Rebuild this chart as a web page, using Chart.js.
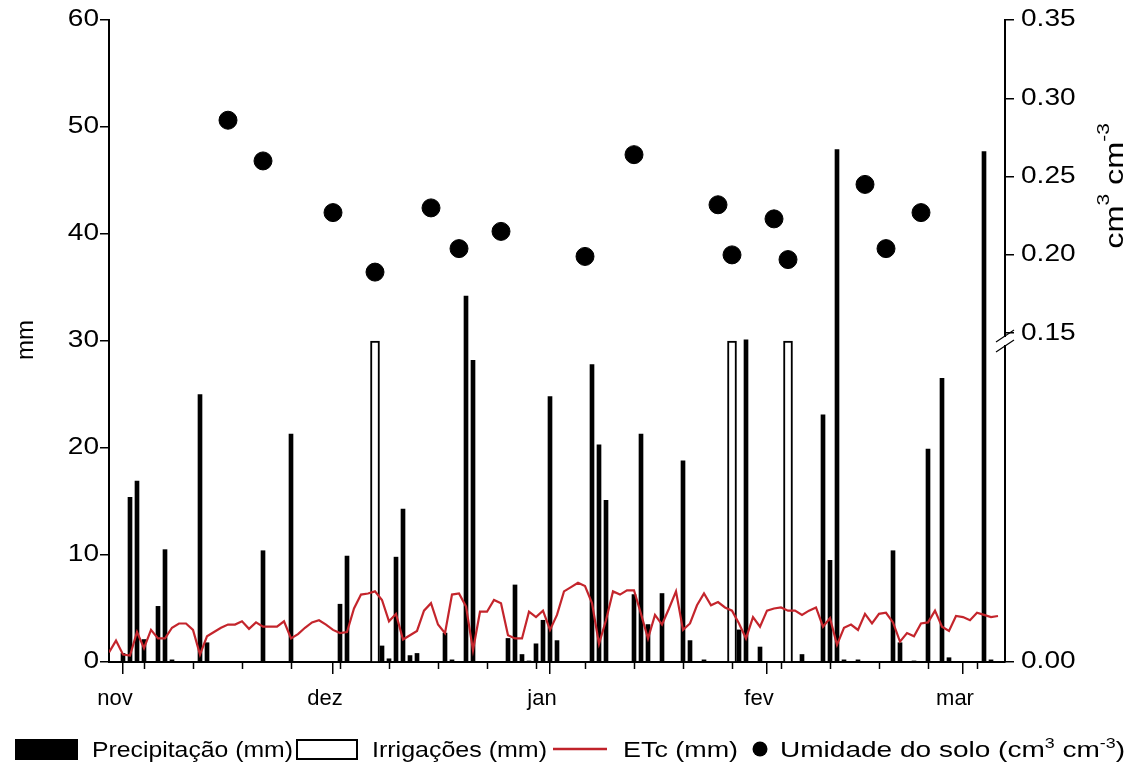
<!DOCTYPE html>
<html>
<head>
<meta charset="utf-8">
<script src="https://cdn.jsdelivr.net/npm/chart.js@4"></script>
<style>
  html, body { margin: 0; padding: 0; background: #fff; }
</style>
</head>
<body>
<canvas id="chart" width="1128" height="766"></canvas>
<script>
// days are counted from 1 November (day 0)
const monthTickDays = [0, 30, 61, 92, 120];
const monthLabels = ["nov", "dez", "jan", "fev", "mar"];
const weekTickDays = [3, 10, 17, 24, 31, 38, 45, 52, 59, 66, 73, 80, 87, 94, 101, 108, 115, 122];

const mmTicks = [0, 10, 20, 30, 40, 50, 60];
const soilTicks = [0.15, 0.20, 0.25, 0.30, 0.35];
const soilBreakLabel = "0.00";

// precipitation (mm)
const precipDays = [0, 1, 2, 3, 5, 6, 7, 11, 12, 20, 24, 31, 32, 37, 38, 39, 40, 41, 42, 46, 47, 49, 50,
  55, 56, 57, 58, 59, 60, 61, 62, 67, 68, 69, 73, 74, 75, 77, 80, 81, 83, 88, 89, 91, 97,
  100, 101, 102, 103, 105, 110, 111, 113, 115, 117, 118, 123, 124];
const precipMm = [0.8, 15.4, 16.9, 2.1, 5.2, 10.5, 0.2, 25.0, 1.8, 10.4, 21.3, 5.4, 9.9, 1.5, 0.3, 9.8, 14.3, 0.6, 0.8, 2.7, 0.2, 34.2, 28.2,
  2.2, 7.2, 0.7, 0.1, 1.7, 3.9, 24.8, 2.0, 27.8, 20.3, 15.1, 6.3, 21.3, 3.5, 6.4, 18.8, 2.0, 0.2, 3.0, 30.1, 1.4, 0.7,
  23.1, 9.5, 47.9, 0.2, 0.2, 10.4, 1.8, 0.1, 19.9, 26.5, 0.4, 47.7, 0.2];

// irrigations (mm)
const irrigDays = [36, 87, 95];
const irrigMm = [30, 30, 30];

// ETc (mm), one value per day starting at day -2
const etcFirstDay = -2;
const etcMm = [0.9, 2.0, 0.7, 0.6, 2.8, 1.3, 3.0, 2.2, 2.2, 3.2, 3.6, 3.6, 3.0, 0.7, 2.4, 2.8, 3.2, 3.5, 3.5, 3.8,
  3.1, 3.7, 3.3, 3.3, 3.3, 3.8, 2.2, 2.6, 3.2, 3.7, 3.9, 3.5, 3.0, 2.7, 2.8, 5.0, 6.3, 6.4, 6.6, 5.8,
  3.8, 4.5, 2.1, 2.5, 2.9, 4.8, 5.5, 3.5, 2.7, 6.3, 6.4, 5.2, 1.1, 4.7, 4.7, 5.8, 5.5, 2.5, 2.2, 2.2,
  4.7, 4.2, 4.8, 3.0, 4.4, 6.6, 7.0, 7.4, 7.1, 5.5, 1.7, 3.9, 6.6, 6.3, 6.7, 6.7, 4.5, 2.2, 4.4, 3.5,
  5.0, 6.6, 3.0, 3.6, 5.3, 6.4, 5.3, 5.6, 5.1, 4.8, 3.6, 2.2, 4.2, 3.3, 4.8, 5.0, 5.1, 4.8, 4.8, 4.4,
  4.8, 5.1, 3.3, 4.1, 1.6, 3.2, 3.5, 3.0, 4.5, 3.6, 4.5, 4.6, 3.7, 1.9, 2.7, 2.4, 3.6, 3.7, 4.8, 3.3,
  2.9, 4.3, 4.2, 3.9, 4.6, 4.4, 4.2, 4.3];

// soil moisture (cm3 cm-3)
const soilDays = [15, 20, 30, 36, 44, 48, 54, 66, 73, 85, 87, 93, 95, 106, 109, 114];
const soilMoisture = [0.286, 0.260, 0.227, 0.189, 0.230, 0.204, 0.215, 0.199, 0.264, 0.232, 0.200, 0.223, 0.197, 0.245, 0.204, 0.227];

const FONT = '"Liberation Sans", Arial, sans-serif';
const STRETCH = 1.22; // the reference lettering is wide
Chart.defaults.font.family = FONT;
Chart.defaults.color = "#000";

function runs(ctx, parts, x, y, sx) {
  // parts: [text, size, raise]
  let cx = x;
  parts.forEach(([t, size, raise]) => {
    ctx.font = size + "px " + FONT;
    ctx.save();
    ctx.translate(cx, y - raise);
    ctx.scale(sx, 1);
    ctx.fillText(t, 0, 0);
    ctx.restore();
    cx += ctx.measureText(t).width * sx;
  });
}

function runsWidth(ctx, parts) {
  let w = 0;
  parts.forEach(([t, size]) => {
    ctx.font = size + "px " + FONT;
    w += ctx.measureText(t).width;
  });
  return w;
}

function fitRuns(ctx, parts, x0, x1, y) {
  const sx = (x1 - x0) / runsWidth(ctx, parts);
  runs(ctx, parts, x0, y, sx);
}

function axisLabels(ctx, scale, x, align, fmt) {
  ctx.font = "23px " + FONT;
  ctx.textBaseline = "middle";
  scale.ticks.forEach((t) => {
    const s = fmt(t.value);
    const w = ctx.measureText(s).width * STRETCH;
    const py = scale.getPixelForValue(t.value);
    ctx.save();
    ctx.translate(align === "right" ? x - w : x, py);
    ctx.scale(STRETCH, 1);
    ctx.fillText(s, 0, 0);
    ctx.restore();
  });
}

const decorations = {
  id: "decorations",
  afterDraw(chart) {
    const ctx = chart.ctx;
    const xs = chart.scales.x;
    const ys = chart.scales.y;
    const y2 = chart.scales.y2;
    const area = chart.chartArea;
    ctx.save();
    ctx.strokeStyle = "#000";
    ctx.fillStyle = "#000";

    // weekly minor ticks on the time axis
    ctx.lineWidth = 1.5;
    weekTickDays.forEach((d) => {
      const px = Math.round(xs.getPixelForValue(d)) + 0.5;
      ctx.beginPath();
      ctx.moveTo(px, area.bottom);
      ctx.lineTo(px, area.bottom + 7);
      ctx.stroke();
    });

    // tick labels of both value axes
    axisLabels(ctx, ys, area.left - 10, "right", (v) => String(v));
    axisLabels(ctx, y2, area.right + 16, "left", (v) => (v < 0 ? soilBreakLabel : v.toFixed(2)));

    // axis break on the right axis
    const bx = area.right;
    const by = y2.getPixelForValue(0.145);
    ctx.fillStyle = "#fff";
    ctx.fillRect(bx - 3, by - 4, 6, 8);
    ctx.fillStyle = "#000";
    ctx.lineWidth = 1.2;
    [-5, 5].forEach((o) => {
      ctx.beginPath();
      ctx.moveTo(bx - 9, by + o + 6);
      ctx.lineTo(bx + 9, by + o - 6);
      ctx.stroke();
    });

    // axis titles
    ctx.textBaseline = "middle";
    ctx.save();
    ctx.translate(26, 340);
    ctx.rotate(-Math.PI / 2);
    ctx.textAlign = "center";
    ctx.font = "24px " + FONT;
    ctx.fillText("mm", 0, 0);
    ctx.restore();

    ctx.save();
    ctx.translate(1116, 186);
    ctx.rotate(-Math.PI / 2);
    ctx.textAlign = "left";
    const tparts = [["cm", 25, 0], ["3", 16, 11], [" cm", 25, 0], ["-3", 16, 11]];
    const tw = runsWidth(ctx, tparts);
    runs(ctx, tparts, -tw * 1.3 / 2, 0, 1.3);
    ctx.restore();

    // legend
    ctx.textAlign = "left";
    ctx.textBaseline = "alphabetic";
    const ly = 749;
    const base = ly + 8;
    ctx.fillRect(15, ly - 10, 63, 21);
    fitRuns(ctx, [["Precipitação (mm)", 22, 0]], 92, 293, base);

    ctx.lineWidth = 2;
    ctx.strokeRect(297, ly - 9, 60, 19);
    fitRuns(ctx, [["Irrigações (mm)", 22, 0]], 372, 547, base);

    ctx.strokeStyle = "#c0222a";
    ctx.lineWidth = 2.5;
    ctx.beginPath();
    ctx.moveTo(553, ly);
    ctx.lineTo(607, ly);
    ctx.stroke();
    fitRuns(ctx, [["ETc (mm)", 22, 0]], 623, 738, base);

    ctx.beginPath();
    ctx.arc(760, ly, 7.5, 0, Math.PI * 2);
    ctx.fill();
    fitRuns(ctx, [["Umidade do solo (cm", 22, 0], ["3", 14, 9], [" cm", 22, 0], ["-3", 14, 9], [")", 22, 0]], 780, 1125, base);

    ctx.restore();
  }
};

const tickGrid = (len) => ({
  offset: false,
  drawOnChartArea: false,
  drawTicks: true,
  tickLength: len,
  color: "#000",
  lineWidth: 1.5
});

new Chart(document.getElementById("chart"), {
  type: "bar",
  data: {
    datasets: [
      {
        type: "scatter",
        label: "Umidade do solo (cm3 cm-3)",
        data: soilDays.map((d, i) => ({ x: d, y: soilMoisture[i] })),
        yAxisID: "y2",
        backgroundColor: "#000",
        borderColor: "#000",
        pointRadius: 9,
        order: 0
      },
      {
        type: "line",
        label: "ETc (mm)",
        data: etcMm.map((v, i) => ({ x: etcFirstDay + i, y: v })),
        yAxisID: "y",
        borderColor: "#c4252c",
        borderWidth: 2.2,
        pointRadius: 0,
        tension: 0,
        fill: false,
        order: 1
      },
      {
        label: "Irrigações (mm)",
        data: irrigDays.map((d, i) => ({ x: d, y: irrigMm[i] })),
        yAxisID: "y",
        backgroundColor: "#fff",
        borderColor: "#000",
        borderWidth: 2,
        barThickness: 9,
        grouped: false,
        order: 3
      },
      {
        label: "Precipitação (mm)",
        data: precipDays.map((d, i) => ({ x: d, y: precipMm[i] })),
        yAxisID: "y",
        backgroundColor: "#000",
        borderWidth: 0,
        barThickness: 4,
        grouped: false,
        order: 2
      }
    ]
  },
  options: {
    responsive: false,
    animation: false,
    layout: { padding: { top: 20, left: 0, right: 0, bottom: 0 } },
    plugins: { legend: { display: false }, tooltip: { enabled: false } },
    scales: {
      x: {
        type: "linear",
        min: -2,
        max: 126,
        offset: false,
        afterBuildTicks: (s) => { s.ticks = monthTickDays.map((v) => ({ value: v })); },
        afterFit: (s) => { s.height = 104; },
        ticks: {
          autoSkip: false,
          maxRotation: 0,
          labelOffset: -8,
          padding: 12,
          font: { size: 22 },
          callback: (v) => monthLabels[monthTickDays.indexOf(v)]
        },
        grid: tickGrid(12),
        border: { display: true, color: "#000", width: 2 }
      },
      y: {
        position: "left",
        min: 0,
        max: 60,
        afterBuildTicks: (s) => { s.ticks = mmTicks.map((v) => ({ value: v })); },
        afterFit: (s) => { s.width = 109; },
        ticks: { display: false },
        grid: tickGrid(9),
        border: { display: true, color: "#000", width: 2 }
      },
      y2: {
        position: "right",
        min: -0.06,
        max: 0.35,
        afterBuildTicks: (s) => { s.ticks = [{ value: -0.06 }].concat(soilTicks.map((v) => ({ value: v }))); },
        afterFit: (s) => { s.width = 123; },
        ticks: { display: false },
        grid: tickGrid(9),
        border: { display: true, color: "#000", width: 2 }
      }
    }
  },
  plugins: [decorations]
});
</script>
</body>
</html>
